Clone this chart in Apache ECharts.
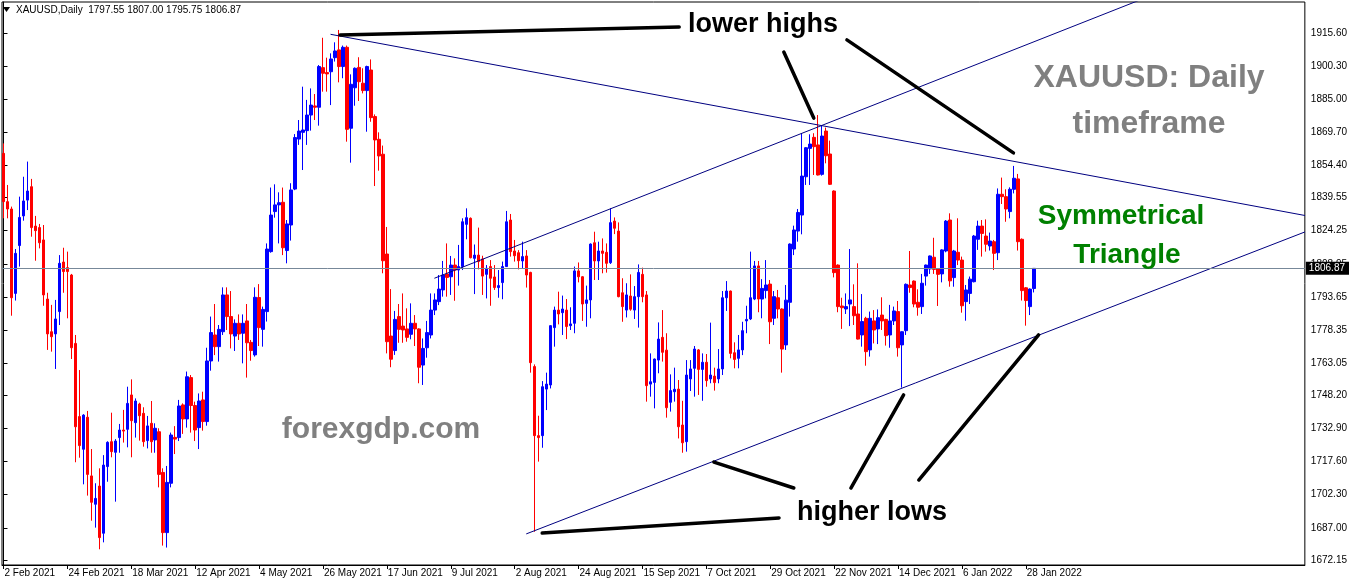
<!DOCTYPE html>
<html>
<head>
<meta charset="utf-8">
<script src="https://cdn.jsdelivr.net/npm/echarts@6/dist/echarts.min.js"></script>
<style>
html,body{margin:0;padding:0;background:#fff;}
#chart{width:1350px;height:584px;}
</style>
</head>
<body>
<div id="chart"></div>
<script>
// ---- data: daily XAUUSD bars, index 0 = 2 Feb 2021 ----
const opens = [
1860.0,1837.7,1834.3,1795.3,1817.4,1831.1,1838.4,1844.6,1826.4,1825.7,
1820.0,1792.7,1777.6,1776.6,1786.9,1809.8,1807.2,1803.8,1772.2,1738.4,
1723.3,1738.1,1711.0,1697.9,1706.3,1684.5,1715.3,1726.8,1721.9,1728.7,
1732.2,1732.5,1748.4,1735.6,1744.2,1739.9,1727.3,1735.3,1727.6,1731.4,
1712.6,1684.8,1707.6,1728.8,1728.7,1743.8,1737.3,1756.4,1743.5,1733.3,
1746.1,1736.1,1764.1,1776.1,1770.7,1777.6,1794.6,1784.6,1775.6,1781.5,
1776.9,1782.6,1772.7,1766.9,1793.4,1778.7,1786.9,1814.6,1833.1,1836.2,
1837.4,1815.1,1826.9,1843.5,1866.6,1869.7,1870.5,1877.7,1881.9,1881.3,
1899.6,1897.3,1897.7,1904.2,1907.8,1900.1,1909.0,1871.6,1890.3,1899.7,
1892.4,1889.0,1898.5,1877.0,1866.5,1859.6,1813.5,1775.6,1768.9,1784.6,
1780.2,1778.9,1776.4,1781.5,1778.9,1762.2,1770.2,1776.1,1787.6,1791.5,
1796.9,1804.3,1803.0,1808.4,1806.1,1807.7,1827.2,1830.0,1811.5,1813.0,
1811.2,1804.1,1807.7,1802.9,1798.0,1800.3,1807.7,1829.2,1814.9,1814.1,
1810.3,1812.6,1805.0,1761.5,1729.6,1729.6,1751.1,1753.0,1779.5,1787.6,
1786.4,1787.6,1780.4,1781.5,1805.7,1803.0,1790.7,1792.3,1818.7,1810.3,
1814.9,1814.3,1809.5,1828.7,1824.1,1795.6,1787.6,1794.1,1787.6,1793.8,
1804.1,1794.6,1753.4,1754.2,1764.5,1775.0,1769.1,1745.0,1749.9,1751.1,
1734.5,1726.8,1755.8,1760.7,1769.2,1760.2,1763.5,1755.8,1757.1,1755.8,
1760.4,1793.3,1796.4,1767.9,1765.3,1769.2,1782.6,1783.5,1792.7,1808.0,
1792.7,1796.6,1799.6,1783.8,1793.3,1788.1,1771.5,1791.2,1815.8,1824.1,
1831.5,1849.2,1862.3,1867.4,1863.9,1850.3,1870.3,1859.7,1842.6,1808.4,
1789.5,1788.1,1790.4,1789.2,1785.8,1776.1,1783.8,1769.2,1782.6,1778.9,
1785.3,1783.3,1776.1,1782.6,1786.9,1771.5,1778.1,1799.2,1801.0,1791.2,
1789.2,1803.3,1806.6,1812.0,1806.6,1804.3,1814.9,1829.2,1802.6,1814.3,
1810.7,1791.5,1795.3,1800.7,1820.3,1826.4,1821.8,1817.2,1819.2,1814.1,
1841.1,1840.0,1833.1,1843.4,1848.2,1820.3,1797.9,1789.2,1797.55
];
const highs = [
1864.6,1845.4,1835.4,1815.8,1840.0,1849.2,1856.2,1848.2,1831.1,1827.4,
1826.9,1795.6,1790.0,1792.3,1813.0,1816.4,1814.6,1804.3,1776.1,1759.9,
1739.5,1741.0,1723.4,1707.6,1714.5,1720.6,1727.0,1740.2,1728.0,1735.0,
1741.5,1752.2,1755.6,1746.8,1744.8,1742.7,1738.7,1745.6,1735.3,1733.0,
1714.5,1715.6,1731.0,1734.0,1746.1,1744.5,1759.2,1757.6,1745.3,1749.1,
1749.9,1770.2,1784.6,1790.4,1780.7,1798.1,1798.1,1796.4,1783.3,1785.6,
1785.6,1790.4,1773.8,1798.1,1799.6,1789.2,1818.4,1844.2,1845.7,1842.0,
1844.2,1829.2,1846.2,1868.9,1875.4,1890.8,1884.7,1890.0,1887.4,1900.8,
1913.4,1904.2,1906.2,1911.3,1917.0,1909.8,1909.8,1896.5,1899.7,1904.4,
1899.3,1900.5,1903.4,1878.0,1869.7,1863.6,1826.0,1797.3,1787.2,1790.4,
1795.3,1788.4,1790.7,1785.3,1779.2,1774.5,1782.6,1795.3,1795.3,1803.8,
1810.3,1818.4,1812.6,1811.5,1817.7,1830.0,1834.6,1830.4,1817.9,1825.7,
1812.7,1808.4,1810.7,1808.4,1806.1,1810.0,1833.4,1832.0,1820.0,1815.3,
1819.2,1815.3,1805.3,1762.5,1738.8,1754.8,1758.7,1780.6,1789.2,1796.1,
1794.3,1792.7,1788.9,1807.7,1809.6,1803.3,1798.9,1818.4,1823.8,1819.2,
1820.7,1818.4,1834.6,1830.4,1828.1,1802.3,1800.0,1804.1,1798.7,1808.7,
1807.2,1796.4,1767.6,1765.2,1781.9,1787.6,1776.9,1757.9,1761.0,1755.3,
1745.7,1764.5,1764.5,1771.0,1769.6,1767.6,1767.3,1781.8,1761.0,1769.6,
1796.4,1801.0,1796.6,1772.7,1776.1,1782.2,1789.6,1814.6,1810.3,1810.3,
1801.9,1810.7,1801.5,1796.4,1796.9,1788.4,1799.2,1818.4,1826.6,1834.3,
1869.3,1862.9,1868.8,1869.3,1877.7,1873.1,1871.9,1865.9,1842.9,1808.7,
1793.3,1795.3,1815.8,1799.5,1809.2,1795.0,1784.5,1786.9,1787.6,1787.9,
1793.5,1783.6,1790.0,1789.2,1791.8,1777.8,1799.9,1814.9,1801.3,1797.2,
1804.3,1808.6,1812.8,1821.0,1807.0,1815.7,1829.2,1832.3,1815.4,1830.0,
1812.3,1799.2,1803.1,1822.3,1828.9,1829.2,1829.5,1823.4,1820.0,1843.8,
1848.8,1843.4,1844.3,1854.2,1850.5,1820.7,1798.2,1797.6,1807.00
];
const lows = [
1830.0,1830.0,1785.0,1792.0,1807.7,1828.9,1833.8,1821.5,1810.4,1816.1,
1789.6,1769.2,1768.4,1760.4,1780.7,1795.6,1783.8,1765.0,1717.3,1719.4,
1707.1,1701.9,1690.3,1687.1,1677.1,1680.3,1708.3,1719.6,1699.1,1721.7,
1726.4,1724.2,1719.6,1728.7,1727.3,1724.5,1723.7,1721.7,1721.7,1705.7,
1678.8,1677.9,1705.7,1721.1,1727.1,1730.4,1733.3,1731.0,1727.1,1723.4,
1731.9,1734.2,1759.6,1766.8,1763.8,1776.1,1778.4,1769.9,1768.7,1773.8,
1763.0,1756.4,1764.2,1766.1,1771.0,1770.7,1782.3,1814.1,1830.3,1818.4,
1813.0,1809.2,1819.7,1843.0,1863.9,1852.3,1863.9,1870.5,1875.4,1872.8,
1888.5,1888.5,1882.3,1902.4,1892.8,1894.7,1865.4,1855.7,1882.0,1884.2,
1887.7,1870.0,1874.6,1844.9,1852.0,1804.6,1767.6,1761.2,1766.9,1772.5,
1772.5,1773.0,1774.1,1771.0,1753.8,1753.0,1765.6,1774.5,1785.3,1789.9,
1793.8,1793.8,1794.6,1791.9,1798.9,1806.1,1820.3,1811.5,1795.0,1806.4,
1794.6,1793.0,1789.6,1796.9,1793.3,1792.6,1807.5,1812.3,1810.0,1806.4,
1806.9,1798.0,1758.7,1685.2,1717.6,1724.0,1741.4,1751.4,1770.7,1781.0,
1776.1,1774.2,1778.4,1776.9,1800.4,1782.6,1779.9,1783.8,1801.5,1801.5,
1804.6,1804.9,1808.9,1822.7,1793.5,1782.2,1784.2,1787.3,1783.5,1779.5,
1791.2,1745.3,1747.6,1742.2,1758.4,1763.8,1737.9,1740.7,1745.3,1728.3,
1721.7,1722.2,1750.2,1747.6,1748.4,1745.7,1752.2,1753.8,1750.4,1753.8,
1757.6,1787.2,1765.3,1760.7,1760.7,1766.8,1776.9,1783.0,1792.2,1786.6,
1783.8,1793.0,1771.9,1780.7,1783.8,1758.7,1769.2,1784.6,1813.0,1819.2,
1822.6,1845.4,1845.4,1850.0,1849.8,1849.7,1855.4,1845.4,1802.7,1786.6,
1778.9,1785.8,1780.2,1780.7,1774.0,1770.7,1761.9,1766.1,1772.2,1771.9,
1778.4,1771.2,1770.2,1780.7,1766.1,1751.8,1776.1,1795.6,1788.9,1785.0,
1785.8,1798.9,1804.3,1804.3,1789.5,1800.4,1814.3,1798.4,1798.4,1808.4,
1786.4,1782.7,1790.4,1800.4,1815.4,1812.3,1814.6,1815.1,1806.1,1810.7,
1836.6,1828.4,1830.0,1841.5,1815.1,1792.0,1780.4,1785.3,1795.75
];
const closes = [
1837.7,1834.3,1793.3,1813.8,1830.4,1838.0,1842.6,1825.7,1824.3,1818.7,
1794.6,1776.6,1775.3,1783.5,1809.2,1805.4,1805.4,1770.2,1733.7,1725.0,
1739.1,1711.7,1698.8,1700.6,1682.5,1716.0,1726.5,1722.2,1727.1,1732.2,
1731.7,1744.5,1736.5,1745.6,1738.8,1726.8,1734.1,1726.8,1733.0,1711.7,
1684.8,1708.0,1729.9,1728.0,1743.3,1737.3,1756.8,1743.5,1732.2,1745.6,
1736.1,1764.1,1777.2,1770.7,1778.7,1794.6,1784.6,1776.6,1781.5,1776.6,
1781.5,1772.5,1768.9,1793.5,1779.5,1787.9,1815.8,1831.5,1836.2,1837.2,
1816.4,1827.4,1843.1,1867.3,1870.3,1870.8,1877.7,1882.3,1881.3,1900.1,
1897.0,1896.7,1903.6,1907.3,1900.1,1909.0,1871.1,1891.9,1899.3,1893.1,
1889.0,1900.1,1876.5,1866.2,1858.8,1810.4,1773.0,1764.9,1783.3,1778.7,
1778.4,1775.0,1781.5,1778.9,1761.2,1769.9,1777.2,1787.6,1792.3,1797.3,
1803.8,1802.7,1808.4,1806.1,1807.7,1828.4,1830.3,1811.8,1813.0,1810.0,
1803.3,1806.9,1802.3,1798.0,1798.9,1807.7,1828.4,1814.6,1812.7,1810.4,
1812.3,1803.8,1763.3,1729.6,1728.7,1752.2,1753.4,1780.4,1787.6,1785.8,
1788.1,1780.0,1781.2,1805.7,1803.0,1790.4,1792.3,1818.1,1810.3,1814.9,
1813.8,1809.2,1828.0,1825.4,1793.8,1789.2,1794.6,1788.0,1793.8,1805.0,
1793.8,1752.7,1754.5,1765.0,1774.2,1768.1,1742.5,1750.4,1751.0,1733.7,
1726.3,1757.6,1760.4,1769.6,1760.2,1763.5,1755.0,1757.6,1754.1,1760.4,
1793.3,1796.4,1767.6,1764.8,1769.2,1778.1,1783.3,1793.3,1808.0,1792.7,
1797.6,1799.2,1782.2,1793.8,1788.1,1769.6,1792.2,1818.1,1824.6,1832.7,
1849.5,1862.6,1864.3,1863.1,1850.0,1868.0,1858.9,1845.7,1804.9,1789.2,
1788.7,1789.2,1792.3,1785.0,1774.2,1782.3,1768.4,1783.8,1778.4,1784.1,
1782.6,1775.8,1782.6,1787.2,1770.2,1777.6,1799.5,1798.0,1790.4,1788.9,
1800.0,1808.4,1812.6,1806.4,1804.1,1815.4,1828.7,1801.1,1814.9,1810.7,
1789.6,1796.9,1801.9,1821.8,1826.4,1823.0,1818.0,1819.5,1813.8,1841.1,
1840.0,1834.3,1843.4,1848.5,1819.2,1796.6,1792.0,1797.3,1806.87
];
// x-axis tick labels every 16 bars
const xLabels = ['2 Feb 2021','24 Feb 2021','18 Mar 2021','12 Apr 2021','4 May 2021','26 May 2021',
 '17 Jun 2021','9 Jul 2021','2 Aug 2021','24 Aug 2021','15 Sep 2021','7 Oct 2021','29 Oct 2021',
 '22 Nov 2021','14 Dec 2021','6 Jan 2022','28 Jan 2022'];
// y-axis price labels
const yLabels = ['1915.60','1900.30','1885.00','1869.70','1854.40','1839.55','1824.25','1808.95',
 '1793.65','1778.35','1763.05','1748.20','1732.90','1717.60','1702.30','1687.00','1672.15'];
const lastPrice = 1806.87;
const headerText = 'XAUUSD,Daily  1797.55 1807.00 1795.75 1806.87';
// trend lines [barIndex, price]
const trendLines = [
  [[81.9, 1915.0], [325.9, 1831.3]],
  [[107.9, 1802.3], [299.2, 1941.5]],
  [[130.9, 1684.2], [325.9, 1823.7]]
];
// annotation pointer lines [barIndex, price]
const pointerLines = [
  [[84.3, 1914.7], [169.2, 1918.4]],
  [[195.4, 1906.8], [202.9, 1876.3]],
  [[211.2, 1912.4], [252.9, 1860.2]],
  [[134.9, 1684.6], [194.2, 1691.6]],
  [[177.9, 1717.4], [197.9, 1705.4]],
  [[212.2, 1705.4], [225.4, 1748.4]],
  [[229.2, 1709.1], [259.2, 1776.1]]
];

// ---- build ----
const candles = opens.map((o, i) => [i, o, closes[i], lows[i], highs[i]]);
const xTickVals = xLabels.map((_, k) => k * 16);
const yTickVals = yLabels.map(Number);

const chart = echarts.init(document.getElementById('chart'), null, {renderer: 'canvas'});
const FONT = 'Liberation Sans, Arial, sans-serif';

const series = [{
  type: 'candlestick',
  data: candles,
  encode: {x: 0, y: [1, 2, 3, 4]},
  barWidth: 3,
  silent: true,
  itemStyle: {color: '#0000ff', color0: '#ff0000', borderColor: '#0000ff', borderColor0: '#ff0000', borderWidth: 1},
  markLine: {
    silent: true, symbol: ['none', 'none'],
    lineStyle: {color: '#778899', width: 1, type: 'solid'},
    label: {show: true, position: 'end', distance: 1, formatter: String(lastPrice),
      backgroundColor: '#000', color: '#fff', fontFamily: FONT, fontSize: 10, padding: [2, 4, 1, 3]},
    data: [{yAxis: lastPrice}]
  },
  z: 3
}];
trendLines.forEach(seg => series.push({
  type: 'line', data: seg, symbol: 'none', silent: true, clip: true,
  lineStyle: {color: '#000080', width: 1}, z: 4
}));
pointerLines.forEach(seg => series.push({
  type: 'line', data: seg, symbol: 'none', silent: true, clip: true,
  lineStyle: {color: '#000', width: 3.5, cap: 'round'}, z: 5
}));

const txt = (x, y, text, size, color) => ({
  type: 'text', x: x, y: y, z: 10,
  style: {text: text, fill: color, font: 'bold ' + size + 'px ' + FONT, textAlign: 'center', textVerticalAlign: 'middle'}
});

chart.setOption({
  animation: false,
  backgroundColor: '#fff',
  grid: {left: 2, right: 43, top: 2, bottom: 19, show: true, borderColor: '#000', borderWidth: 1, backgroundColor: '#fff'},
  xAxis: {
    type: 'value', min: -0.375, max: 325.875,
    axisLine: {show: true, lineStyle: {color: '#000'}},
    splitLine: {show: false},
    axisTick: {show: true, customValues: xTickVals, length: 4, lineStyle: {color: '#000'}},
    axisLabel: {customValues: xTickVals, formatter: v => xLabels[Math.round(v / 16)] || '',
      color: '#000', fontFamily: FONT, fontSize: 10, align: 'left', margin: 3, padding: [0, 0, 0, 1]}
  },
  yAxis: {
    type: 'value', position: 'right', min: 1669.84, max: 1929.92, scale: true,
    axisLine: {show: true, lineStyle: {color: '#000'}},
    splitLine: {show: false},
    axisTick: {show: true, customValues: yTickVals, length: 4, lineStyle: {color: '#000'}},
    axisLabel: {customValues: yTickVals, formatter: v => yLabels[yTickVals.indexOf(v)] || v.toFixed(2),
      color: '#000', fontFamily: FONT, fontSize: 10, margin: 6}
  },
  series: series,
  graphic: [
    {type: 'polygon', shape: {points: [[3, 7], [10, 7], [6.5, 12]]}, style: {fill: '#000'}, z: 10},
    {type: 'text', x: 16, y: 10, z: 10, style: {text: headerText, fill: '#000', font: '10px ' + FONT, textVerticalAlign: 'middle'}},
    txt(763, 25, 'lower highs', 27, '#000'),
    txt(1149, 78, 'XAUUSD: Daily', 32, '#808080'),
    txt(1149, 124, 'timeframe', 32, '#808080'),
    txt(1121, 216, 'Symmetrical', 28, '#008000'),
    txt(1127, 255, 'Triangle', 28, '#008000'),
    txt(381, 430, 'forexgdp.com', 30, '#808080'),
    txt(872, 513, 'higher lows', 27, '#000')
  ]
});
</script>
</body>
</html>
